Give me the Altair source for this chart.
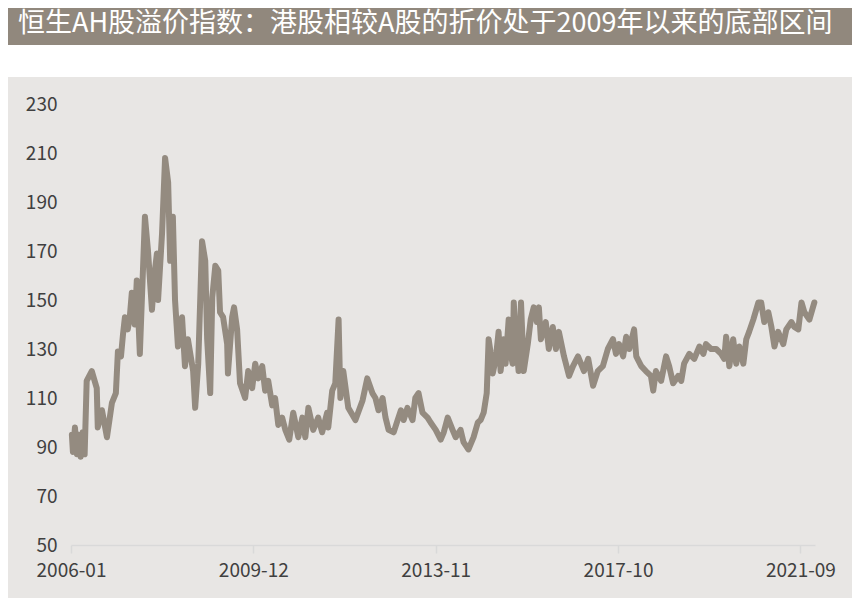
import altair as alt
import pandas as pd

TITLE = "恒生AH股溢价指数：港股相较A股的折价处于2009年以来的底部区间"

dates = [
    "2006-01-08", "2006-01-16", "2006-02-01", "2006-02-17", "2006-03-02", "2006-03-18",
    "2006-04-03", "2006-04-18", "2006-05-04", "2006-06-13", "2006-07-22", "2006-07-30",
    "2006-09-01", "2006-10-10", "2006-11-18", "2006-12-19", "2007-01-04", "2007-01-28",
    "2007-02-13", "2007-02-28", "2007-03-22", "2007-04-07", "2007-04-23", "2007-05-16",
    "2007-06-01", "2007-06-25", "2007-08-04", "2007-08-28", "2007-09-28", "2007-10-21",
    "2007-11-06", "2007-11-15", "2007-12-16", "2008-01-09", "2008-02-02", "2008-02-18",
    "2008-03-10", "2008-03-27", "2008-04-19", "2008-05-21", "2008-06-13", "2008-07-06",
    "2008-08-16", "2008-09-01", "2008-09-25", "2008-10-25", "2008-11-19", "2008-12-04",
    "2008-12-28", "2009-01-13", "2009-02-06", "2009-03-01", "2009-03-15", "2009-04-08",
    "2009-05-10", "2009-05-16", "2009-06-18", "2009-07-03", "2009-07-27", "2009-08-19",
    "2009-09-28", "2009-10-22", "2009-11-22",
    "2009-12-16", "2010-01-09", "2010-02-09", "2010-03-04", "2010-03-28", "2010-04-28",
    "2010-05-21", "2010-06-15", "2010-07-15", "2010-08-09", "2010-09-09", "2010-10-10",
    "2010-11-19", "2010-12-21", "2011-01-13", "2011-02-06", "2011-03-16", "2011-04-24",
    "2011-05-25", "2011-07-03", "2011-07-12", "2011-08-12", "2011-09-05", "2011-10-01",
    "2011-10-15", "2011-11-07", "2011-12-16", "2012-02-10", "2012-04-06", "2012-05-13",
    "2012-06-22", "2012-07-16",
    "2012-08-09", "2012-09-10", "2012-10-03",
    "2012-10-27", "2012-12-06", "2013-01-06", "2013-02-01", "2013-02-22", "2013-03-24",
    "2013-05-03", "2013-05-25", "2013-06-19", "2013-07-20", "2013-08-29", "2013-09-22",
    "2013-11-01", "2013-12-10", "2014-01-03", "2014-02-03", "2014-03-13", "2014-04-06",
    "2014-05-15", "2014-06-07", "2014-07-16", "2014-08-25", "2014-09-27", "2014-10-19",
    "2014-11-12",
    "2014-12-06", "2014-12-21", "2015-01-07", "2015-01-22", "2015-02-15", "2015-03-09",
    "2015-03-25", "2015-04-18", "2015-05-03", "2015-05-27", "2015-06-12", "2015-06-27",
    "2015-07-06", "2015-07-21", "2015-08-13", "2015-09-01", "2015-09-22", "2015-10-24",
    "2015-11-16", "2015-12-10", "2016-01-03", "2016-01-19", "2016-02-04", "2016-03-13",
    "2016-04-06", "2016-05-07", "2016-06-01", "2016-06-24", "2016-08-03", "2016-09-12",
    "2016-10-13", "2016-11-21", "2017-01-07", "2017-02-09", "2017-03-19", "2017-04-25",
    "2017-06-04", "2017-07-13", "2017-08-22", "2017-09-15", "2017-10-09",
    "2017-11-10", "2017-12-04", "2017-12-28", "2018-02-04", "2018-02-21", "2018-04-01",
    "2018-05-07", "2018-06-16", "2018-07-04", "2018-07-25", "2018-09-04", "2018-10-13",
    "2018-11-06", "2018-12-07", "2019-01-16", "2019-02-09", "2019-03-03", "2019-04-13",
    "2019-05-22", "2019-07-01", "2019-08-01", "2019-08-22", "2019-10-01", "2019-11-10",
    "2019-12-19", "2020-01-12", "2020-01-27", "2020-02-21", "2020-03-22", "2020-04-15",
    "2020-05-09", "2020-06-10", "2020-07-03", "2020-07-25", "2020-08-27", "2020-10-06",
    "2020-10-28", "2020-11-21", "2020-12-23", "2021-01-16", "2021-02-09", "2021-03-10",
    "2021-04-19", "2021-05-13", "2021-06-22", "2021-07-15", "2021-08-15", "2021-09-09",
    "2021-10-02", "2021-11-10", "2021-12-19",
]

values = [
    95, 88, 98, 87, 95, 86,
    96, 87, 117, 121, 114, 98,
    105, 94, 108, 112, 129, 127,
    136, 143, 138, 143, 153, 140,
    158, 128, 184, 170, 146, 162,
    169, 150, 177, 208, 198, 166,
    184, 150, 131, 143, 123, 134,
    121, 106, 124, 174, 166, 134,
    112, 151, 164, 162, 145, 143,
    132, 120, 143, 147, 138, 116,
    110, 121, 114,
    124, 118, 123, 113, 117, 107,
    110, 99, 102, 97, 93, 104,
    94, 102, 94, 106, 97, 102,
    96, 104, 98, 113, 116, 142,
    110, 121, 106, 101, 109, 118,
    112, 110,
    105, 110, 102,
    97, 96, 101, 105, 101, 106,
    101, 110, 112, 104, 102, 100,
    97, 93, 96, 102, 97, 94,
    97, 92, 89, 94, 100, 101,
    104,
    112, 134, 128, 120, 126, 137,
    121, 134, 124, 142, 128, 124,
    149, 135, 121, 149, 121, 132,
    142, 147, 141, 147, 134, 141,
    130, 139, 130, 137, 127, 119,
    123, 127, 121, 126, 115, 121,
    123, 130, 134, 128, 132,
    127, 135, 130, 138, 127, 123,
    121, 119, 113, 121, 117, 127,
    123, 116, 119, 117, 124, 128,
    126, 131, 128, 132, 130, 130,
    128, 126, 135, 123, 134, 124,
    131, 124, 134, 137, 142, 149,
    149, 141, 145, 139, 131, 137,
    132, 138, 141, 139, 138, 149,
    145, 142, 149,
]

y_ticks = [50, 70, 90, 110, 130, 150, 170, 190, 210, 230]
x_ticks = [(2006, 1), (2009, 12), (2013, 11), (2017, 10), (2021, 9)]

df = pd.DataFrame({"date": pd.to_datetime(dates), "value": values})
title_df = pd.DataFrame({"t": [TITLE]})

W, H = 744, 441
PAD = {"left": 63, "top": 96, "right": 37, "bottom": 53}
FONT = "Noto Sans CJK SC"

bg = alt.Chart(title_df).mark_rect(color="#e8e6e4").encode(
    x=alt.value(-PAD["left"]), x2=alt.value(W + PAD["right"]),
    y=alt.value(-27), y2=alt.value(H + PAD["bottom"]),
)
bar = alt.Chart(title_df).mark_rect(color="#91887d").encode(
    x=alt.value(-PAD["left"]), x2=alt.value(W + PAD["right"]),
    y=alt.value(-PAD["top"]), y2=alt.value(-59),
)
title_txt = alt.Chart(title_df).mark_text(
    align="left", baseline="middle", font=FONT, fontSize=27, color="#ffffff"
).encode(x=alt.value(-53), y=alt.value(-80), text="t:N")

line = alt.Chart(df).mark_line(
    color="#948b80", strokeWidth=6, strokeJoin="round", strokeCap="round"
).encode(
    x=alt.X(
        "date:T",
        scale=alt.Scale(domain=[alt.DateTime(year=2006, month=1, date=1),
                                alt.DateTime(year=2021, month=12, date=24)]),
        axis=alt.Axis(
            title=None, format="%Y-%m",
            values=[alt.DateTime(year=y, month=m, date=1) for y, m in x_ticks],
            domainColor="#d9d9d9", domainWidth=1.5, tickColor="#d9d9d9", tickWidth=1.5,
            tickSize=8, labelPadding=8, labelFont=FONT, labelFontSize=19,
            labelColor="#404040", grid=False, zindex=1, labelFlush=False,
        ),
    ),
    y=alt.Y(
        "value:Q",
        scale=alt.Scale(domain=[50, 230], nice=False, zero=False),
        axis=alt.Axis(
            title=None, values=y_ticks, domain=False, ticks=False, grid=False,
            labelPadding=14, labelFont=FONT, labelFontSize=19, labelColor="#404040",
            zindex=1,
        ),
    ),
)

chart = alt.layer(bg, bar, title_txt, line).properties(
    width=W, height=H,
    autosize=alt.AutoSizeParams(type="none"),
    padding=PAD,
    background="#ffffff",
).configure_view(stroke=None)

chart.save("out.html", embed_options={"renderer": "svg", "actions": False})
